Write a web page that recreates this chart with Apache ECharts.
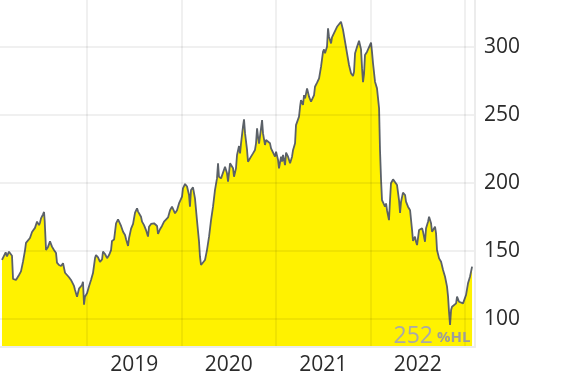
<!DOCTYPE html>
<html>
<head>
<meta charset="utf-8">
<script src="https://cdn.jsdelivr.net/npm/echarts@6/dist/echarts.min.js"></script>
<style>
html,body{margin:0;padding:0;background:#fff;}
#chart{width:570px;height:382px;}
</style>
</head>
<body>
<div id="chart"></div>
<script>
// Decimal years (x) and prices (y)
const dates = [
2018.100,2018.121,2018.139,2018.153,2018.174,2018.195,2018.206,2018.217,2018.248,2018.259,2018.280,2018.301,2018.322,2018.344,2018.354,2018.375,2018.396,2018.418,2018.428,2018.449,2018.471,2018.492,2018.502,2018.513,2018.534,2018.545,2018.552,2018.566,2018.587,2018.608,2018.629,2018.650,2018.672,2018.682,2018.703,2018.725,2018.746,2018.767,2018.788,2018.809,2018.830,2018.841,2018.862,2018.873,2018.894,2018.915,
2018.926,2018.947,2018.957,2018.968,2018.978,2019.000,2019.021,2019.042,2019.063,2019.085,2019.095,2019.116,2019.137,2019.159,2019.169,2019.190,2019.212,2019.233,2019.254,2019.264,2019.286,2019.307,2019.328,2019.339,2019.360,2019.381,2019.402,2019.413,2019.434,2019.444,2019.466,2019.487,2019.497,2019.508,2019.529,2019.540,2019.550,2019.571,2019.582,2019.603,2019.624,2019.645,2019.656,2019.677,2019.709,2019.719,2019.741,2019.751,2019.772,
2019.793,2019.815,2019.836,2019.857,2019.878,2019.899,2019.920,2019.931,2019.952,2019.973,2019.994,2020.005,2020.015,2020.037,2020.058,2020.079,2020.089,2020.100,2020.121,2020.142,2020.163,2020.185,2020.195,2020.206,2020.227,2020.248,2020.269,2020.291,2020.312,2020.333,2020.354,2020.375,2020.386,2020.396,2020.418,2020.439,2020.460,2020.481,2020.492,2020.513,2020.523,2020.545,2020.555,2020.576,2020.587,2020.608,
2020.619,2020.629,2020.650,2020.661,2020.672,2020.693,2020.703,2020.714,2020.735,2020.756,2020.777,2020.788,2020.799,2020.809,2020.820,2020.841,2020.852,2020.862,2020.883,2020.894,2020.915,2020.936,2020.947,2020.968,2020.989,2021.000,2021.021,2021.031,2021.053,2021.063,2021.074,2021.095,2021.106,2021.127,2021.148,2021.169,2021.180,2021.201,2021.211,2021.222,2021.243,2021.254,2021.264,2021.285,2021.296,2021.307,2021.328,2021.349,2021.370,2021.391,2021.402,2021.412,2021.434,2021.455,
2021.465,2021.476,2021.497,2021.508,2021.518,2021.539,2021.550,2021.560,2021.582,2021.592,2021.603,2021.624,2021.645,2021.666,2021.687,2021.698,2021.709,2021.730,2021.751,2021.772,2021.793,2021.814,2021.825,2021.836,2021.857,2021.878,2021.899,2021.910,2021.920,2021.931,2021.941,2021.963,2021.984,2022.005,2022.015,2022.026,2022.047,2022.068,2022.090,2022.100,2022.111,2022.121,2022.132,2022.153,2022.164,2022.174,2022.195,2022.206,2022.216,2022.238,2022.259,2022.280,2022.301,
2022.312,2022.322,2022.343,2022.365,2022.375,2022.396,2022.418,2022.439,2022.449,2022.470,2022.481,2022.492,2022.513,2022.534,2022.545,2022.555,2022.576,2022.587,2022.608,2022.619,2022.640,2022.650,2022.661,2022.682,2022.693,2022.703,2022.725,2022.746,2022.767,2022.788,2022.809,2022.820,2022.830,2022.841,2022.852,2022.862,2022.883,2022.905,2022.915,2022.936,2022.957,2022.978,2022.999,2023.010,2023.031,2023.052,2023.074
];
const prices = [
143.4,142.6,149,146,149.5,150,146.5,129.4,128.7,128,132.4,135,142,150.7,156,156.6,159.6,164,163,167,171.6,169,170.8,174,177,178.7,172,150.7,153,157.1,153.2,150.7,148.5,141.4,139.7,139,141,134,133.8,130.7,128.7,129.7,124.3,121.3,116.4,122.3,
122.5,125,127.4,110.5,116.4,119,124,128.7,133.8,145,147,145.3,142,143.8,149.5,147.8,144.7,147,150.7,157.4,158.4,170.3,173.3,172.8,168.4,164.2,161.8,158.6,153.7,159.4,166.5,169.9,174,178.2,181.4,179,179.6,175.2,171.6,169,165.4,160.6,167.9,169.9,170.4,171.6,168.4,162.5,166,
168.4,171.6,172.8,174.7,180,182.6,181.4,177.7,180,185,186.3,190,196,199.3,197.4,191.2,182.6,194.9,196.8,188.7,172.7,156.8,145.8,139.7,140.4,143.4,150.7,160.5,172.7,182.6,194.9,203.4,214.5,204.6,203.4,203.4,212,207.1,201,214.5,215.7,210.8,204.6,210.8,220.6,227.2,
221.8,229,241.4,246.8,236.5,224.3,215.7,214.5,219.4,221.8,224.3,229.2,240.2,234.2,228.9,240.2,246.3,236.5,228,231.6,230.4,229.2,225.5,224.3,219.4,223.1,217,210.8,219.4,215.7,220.6,213.2,222.3,219.4,214.5,219.4,224.3,229.2,242.6,241.4,248.8,256.1,261,257.4,264.7,262.2,269.6,263.5,259.8,259.8,264.7,270.8,273.8,277,
278.2,285.6,296.6,298.3,295.4,300.2,313.8,307.6,302.7,307.1,308.8,307.6,314.9,316.2,318.6,319.9,312.5,303.9,295.4,286.8,280.7,278.7,281.8,295.4,300.2,304.6,298.3,284.3,274.1,280.3,294.1,296.6,296.6,303.2,296.6,288,274.5,269.6,254.9,224,202.2,187.5,186.3,182.6,185,180,172.7,187.5,199.8,202.7,202.7,198.5,187.5,
178,186,192.9,191.2,186.3,182.6,180,165.4,157.4,160.5,156.8,154.4,165.4,164.2,166.7,164.2,156.8,166.7,171.6,175.2,170.4,164.2,165.4,167.9,163,150.7,144.6,142.1,136,131.1,123.8,116.4,105.4,95.6,106.6,109,108.6,111.5,116.4,112.7,111.5,111.5,110.3,117.6,126.2,131.1,138.5
];
const yearLabels = [2019, 2020, 2021, 2022];
const watermarkValue = '252';
const watermarkUnit = '%HL';

const seriesData = dates.map((d, i) => [d, prices[i]]);

const xMin = 2018.079, xMax = 2023.105;
const yMin = 79.4, yMax = 334.6;
const FONT = '"Open Sans", "Noto Sans", sans-serif';
const gridCol = 'rgba(0,0,0,0.06)';

const chart = echarts.init(document.getElementById('chart'), null, {renderer: 'canvas'});
chart.setOption({
  animation: false,
  backgroundColor: '#ffffff',
  grid: {left: 0, right: 95, top: 0, bottom: 35, containLabel: false},
  xAxis: [{
    type: 'value', min: xMin, max: xMax, z: 5,
    axisLine: {show: true, lineStyle: {color: '#ececec', width: 2}},
    axisTick: {show: false},
    axisLabel: {show: false},
    splitLine: {show: true, showMinLine: false, showMaxLine: false, lineStyle: {color: gridCol, width: 2}}
  }, {
    type: 'value', min: xMin - 0.5, max: xMax - 0.5, position: 'bottom',
    axisLine: {show: false}, axisTick: {show: false}, splitLine: {show: false},
    axisLabel: {
      show: true, margin: 8, fontSize: 21, fontFamily: FONT, color: '#2b2b2b',
      showMinLabel: false, showMaxLabel: false,
      formatter: v => (yearLabels.indexOf(Math.round(v)) >= 0 && Math.abs(v - Math.round(v)) < 1e-6) ? String(Math.round(v)) : ''
    }
  }],
  yAxis: {
    type: 'value', position: 'right', min: yMin, max: yMax, z: 5,
    axisLine: {show: true, lineStyle: {color: '#ececec', width: 2}},
    axisTick: {show: false},
    axisLabel: {
      margin: 9, fontSize: 21, fontFamily: FONT, color: '#2b2b2b',
      showMinLabel: false, showMaxLabel: false,
      formatter: v => (Math.abs(v % 50) < 1e-6) ? String(v) : ''
    },
    splitLine: {show: true, showMinLine: false, showMaxLine: false, lineStyle: {color: gridCol, width: 2}}
  },
  series: [{
    type: 'line', xAxisIndex: 0, data: seriesData, showSymbol: false, z: 2,
    lineStyle: {color: '#5b6168', width: 1.8},
    areaStyle: {color: '#fff200', opacity: 1, origin: 'start'}
  }],
  graphic: [
    {type: 'text', z: 100, x: 433, y: 336, style: {text: watermarkValue, font: '23px ' + FONT, fill: '#a9a9a9', align: 'right', verticalAlign: 'middle'}},
    {type: 'text', z: 100, x: 437, y: 337.5, style: {text: watermarkUnit, font: 'bold 15px ' + FONT, fill: '#9c9c9c', align: 'left', verticalAlign: 'middle'}}
  ]
});
</script>
</body>
</html>
